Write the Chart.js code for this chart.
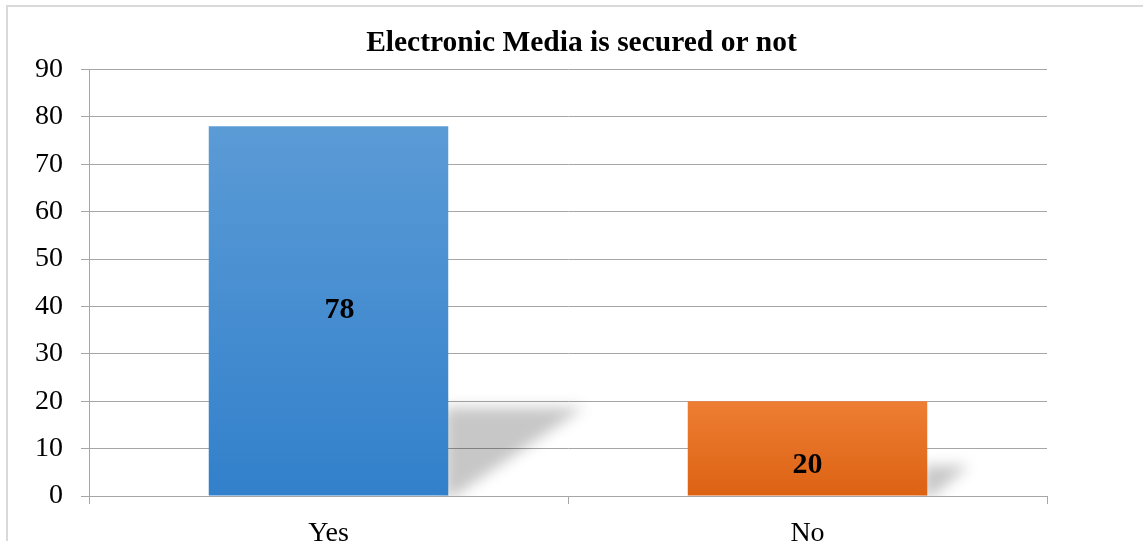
<!DOCTYPE html>
<html>
<head>
<meta charset="utf-8">
<script src="https://cdn.jsdelivr.net/npm/chart.js@4/dist/chart.umd.min.js"></script>
<style>
html,body{margin:0;padding:0;background:#fff;overflow:hidden;}
#wrap{position:absolute;left:0;top:0;width:1143px;height:541px;}
</style>
</head>
<body>
<div id="wrap"><canvas id="c" width="1143" height="541"></canvas></div>
<script>
const titleText = 'Electronic Media is secured or not';
const categories = ['Yes', 'No'];
const values = [78, 20];
const yTicks = [0, 10, 20, 30, 40, 50, 60, 70, 80, 90];

const gradTop = ['#5b9bd6', '#ee7e33'];
const gradBottom = ['#3280cb', '#dc6213'];
const FONT = '"Liberation Serif", "Times New Roman", serif';

function barGradient(ctx) {
  const chart = ctx.chart;
  const i = ctx.dataIndex;
  if (!chart.chartArea || i === undefined) return gradTop[i || 0];
  const y = chart.scales.y;
  const top = y.getPixelForValue(values[i]);
  const base = y.getPixelForValue(0);
  const g = chart.ctx.createLinearGradient(0, top, 0, base);
  g.addColorStop(0, gradTop[i]);
  g.addColorStop(1, gradBottom[i]);
  return g;
}

const framePlugin = {
  id: 'frame',
  beforeDraw(chart) {
    const c = chart.ctx;
    c.save();
    c.strokeStyle = '#d9d9d9';
    c.lineWidth = 2;
    c.beginPath();
    c.moveTo(7, 560);
    c.lineTo(7, 6);
    c.lineTo(1160, 6);
    c.stroke();
    c.restore();
  }
};

const shadowPlugin = {
  id: 'barShadow',
  beforeDatasetsDraw(chart) {
    const c = chart.ctx;
    const meta = chart.getDatasetMeta(0);
    c.save();
    c.beginPath();
    c.rect(chart.chartArea.left, chart.chartArea.top, chart.chartArea.width, chart.chartArea.height);
    c.clip();
    c.filter = 'blur(7px)';
    c.fillStyle = 'rgba(0,0,0,0.22)';
    meta.data.forEach((bar) => {
      const h = bar.base - bar.y;
      const right = bar.x + bar.width / 2;
      const sh = 0.211 * h + 10;
      const sw = 0.342 * h + 9.5;
      c.beginPath();
      c.moveTo(right - 4, bar.base + 2);
      c.lineTo(right - 4, bar.base - sh);
      c.lineTo(right + sw, bar.base - sh);
      c.lineTo(right + 4, bar.base + 2);
      c.closePath();
      c.fill();
    });
    c.restore();
  }
};

const labelPlugin = {
  id: 'valueLabels',
  afterDatasetsDraw(chart, args, opts) {
    const c = chart.ctx;
    const meta = chart.getDatasetMeta(0);
    c.save();
    c.font = 'bold 30px ' + FONT;
    c.fillStyle = '#000';
    c.textAlign = 'center';
    c.textBaseline = 'middle';
    meta.data.forEach((bar, i) => {
      const dx = (opts.dx && opts.dx[i]) || 0;
      const dy = (opts.dy && opts.dy[i]) || 0;
      c.fillText(String(values[i]), bar.x + dx, (bar.y + bar.base) / 2 + dy);
    });
    c.restore();
  }
};

new Chart(document.getElementById('c'), {
  type: 'bar',
  data: {
    labels: categories,
    datasets: [{
      data: values,
      backgroundColor: barGradient,
      borderWidth: 0,
      barPercentage: 0.5,
      categoryPercentage: 1.0
    }]
  },
  plugins: [framePlugin, shadowPlugin, labelPlugin],
  options: {
    responsive: false,
    animation: false,
    devicePixelRatio: 1,
    layout: { padding: { left: 20, right: 0, top: 0, bottom: 0 } },
    plugins: {
      legend: { display: false },
      tooltip: { enabled: false },
      title: {
        display: true,
        text: titleText,
        color: '#000',
        font: { family: FONT, size: 29.5, weight: 'bold', lineHeight: 1.2 },
        padding: { top: 26, bottom: 8 }
      },
      valueLabels: { dx: [11, 0], dy: [-1, 17] }
    },
    scales: {
      x: {
        afterFit(scale) { scale.height = 45; },
        grid: { display: true, drawOnChartArea: false, drawTicks: true, tickLength: 8, offset: true, color: '#a6a6a6', lineWidth: 1 },
        border: { display: true, color: '#a6a6a6', width: 1 },
        ticks: { color: '#000', padding: 13, font: { family: FONT, size: 28 } }
      },
      y: {
        min: 0,
        max: 90,
        afterFit(scale) { scale.width = 69; },
        afterBuildTicks(scale) { scale.ticks = yTicks.map(v => ({ value: v })); },
        grid: { color: '#a6a6a6', lineWidth: 1, tickLength: 8, drawTicks: true },
        border: { display: true, color: '#a6a6a6', width: 1 },
        ticks: { color: '#000', padding: 18, font: { family: FONT, size: 28 } }
      },
      yRight: {
        position: 'right',
        display: true,
        min: 0,
        max: 90,
        afterFit(scale) { scale.width = 96; },
        grid: { display: false, drawTicks: false },
        border: { display: false },
        ticks: { display: false }
      }
    }
  }
});
</script>
</body>
</html>
